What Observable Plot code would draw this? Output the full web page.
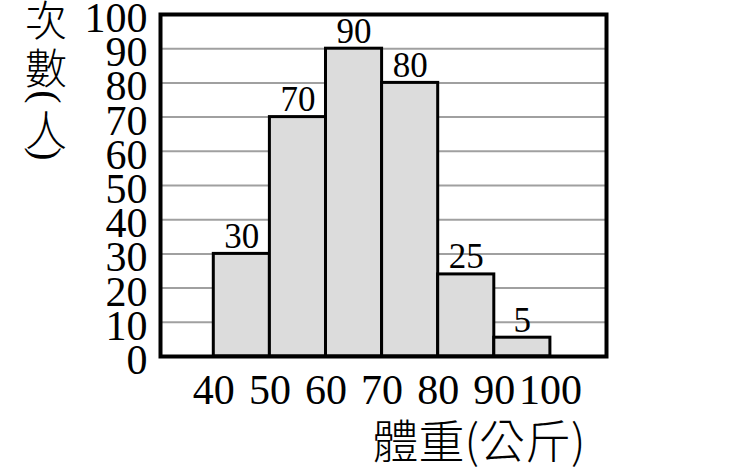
<!DOCTYPE html>
<html>
<head>
<meta charset="utf-8">
<script src="https://cdn.jsdelivr.net/npm/d3@7"></script>
<script src="https://cdn.jsdelivr.net/npm/@observablehq/plot@0.6"></script>
<style>
  html, body { margin: 0; padding: 0; background: #fff; }
  #chart { width: 750px; height: 470px; }
</style>
</head>
<body>
<div id="chart"></div>
<script>
// Data
const binStarts = [40, 50, 60, 70, 80, 90];
const binWidth = 10;
const counts = [30, 70, 90, 80, 24, 5.5];          // bar heights as drawn
const countLabels = ["30", "70", "90", "80", "25", "5"]; // printed labels
const yTicks = [0, 10, 20, 30, 40, 50, 60, 70, 80, 90, 100];
const gridLines = [10, 20, 30, 40, 50, 60, 70, 80, 90];
const xTicks = [40, 50, 60, 70, 80, 90, 100];
const yTitleChars = ["次", "數", "(", "人", ")"];
const xTitle = "體重(公斤)";

const bins = binStarts.map((s, i) => ({x1: s, x2: s + binWidth, y: counts[i], label: countLabels[i]}));

const serif = "'Liberation Serif', 'Times New Roman', serif";
const cjk = "'Noto Sans CJK TC', 'Noto Sans CJK SC', sans-serif";

const svg = Plot.plot({
  width: 750,
  height: 470,
  marginLeft: 160,
  marginTop: 14,
  marginRight: 144,
  marginBottom: 114,
  x: {domain: [30.5, 110], axis: null},
  y: {domain: [0, 100], axis: null},
  style: {fontFamily: serif, background: "#fff"},
  marks: [
    Plot.ruleY(gridLines, {stroke: "#a0a0a0", strokeWidth: 2}),
    Plot.rectY(bins, {x1: "x1", x2: "x2", y: "y", fill: "#dcdcdc", stroke: "#000", strokeWidth: 3}),
    Plot.text(bins, {x: d => (d.x1 + d.x2) / 2, y: "y", text: "label", lineAnchor: "bottom", dy: -6, fontSize: 35, fontFamily: serif, fill: "#000"}),
    Plot.frame({stroke: "#000", strokeWidth: 4}),
    Plot.text(yTicks, {x: 30.5, y: d => d, text: d => String(d), textAnchor: "end", lineAnchor: "middle", dx: -13, dy: 4, fontSize: 42, fontFamily: serif, fill: "#000"}),
    Plot.text(xTicks, {x: d => d, frameAnchor: "bottom", text: d => String(d), lineAnchor: "middle", dy: 34, fontSize: 42, fontFamily: serif, fill: "#000"}),
    Plot.text([xTitle], {frameAnchor: "bottom-right", text: d => d, textAnchor: "end", lineAnchor: "middle", dx: -21, dy: 87, fontSize: 46, fontFamily: cjk, fontWeight: 300, fill: "#000"})
  ]
});

// vertical y-axis title, one character per line (parentheses turned sideways)
const s = d3.select(svg);
const ys = [17, 65, 97, 127, 154];
yTitleChars.forEach((c, i) => {
  const isParen = c === "(" || c === ")";
  const t = s.append("text")
    .attr("x", 0).attr("y", 0)
    .attr("text-anchor", "middle")
    .attr("dominant-baseline", "central")
    .attr("fill", "#000")
    .style("font-family", isParen ? serif : cjk)
    .style("font-weight", isParen ? 400 : 300)
    .style("font-size", isParen ? "40px" : "42px")
    .text(c);
  t.attr("transform", `translate(46,${ys[i]})` + (isParen ? " rotate(90)" : ""));
});

document.getElementById("chart").appendChild(svg);
</script>
</body>
</html>
